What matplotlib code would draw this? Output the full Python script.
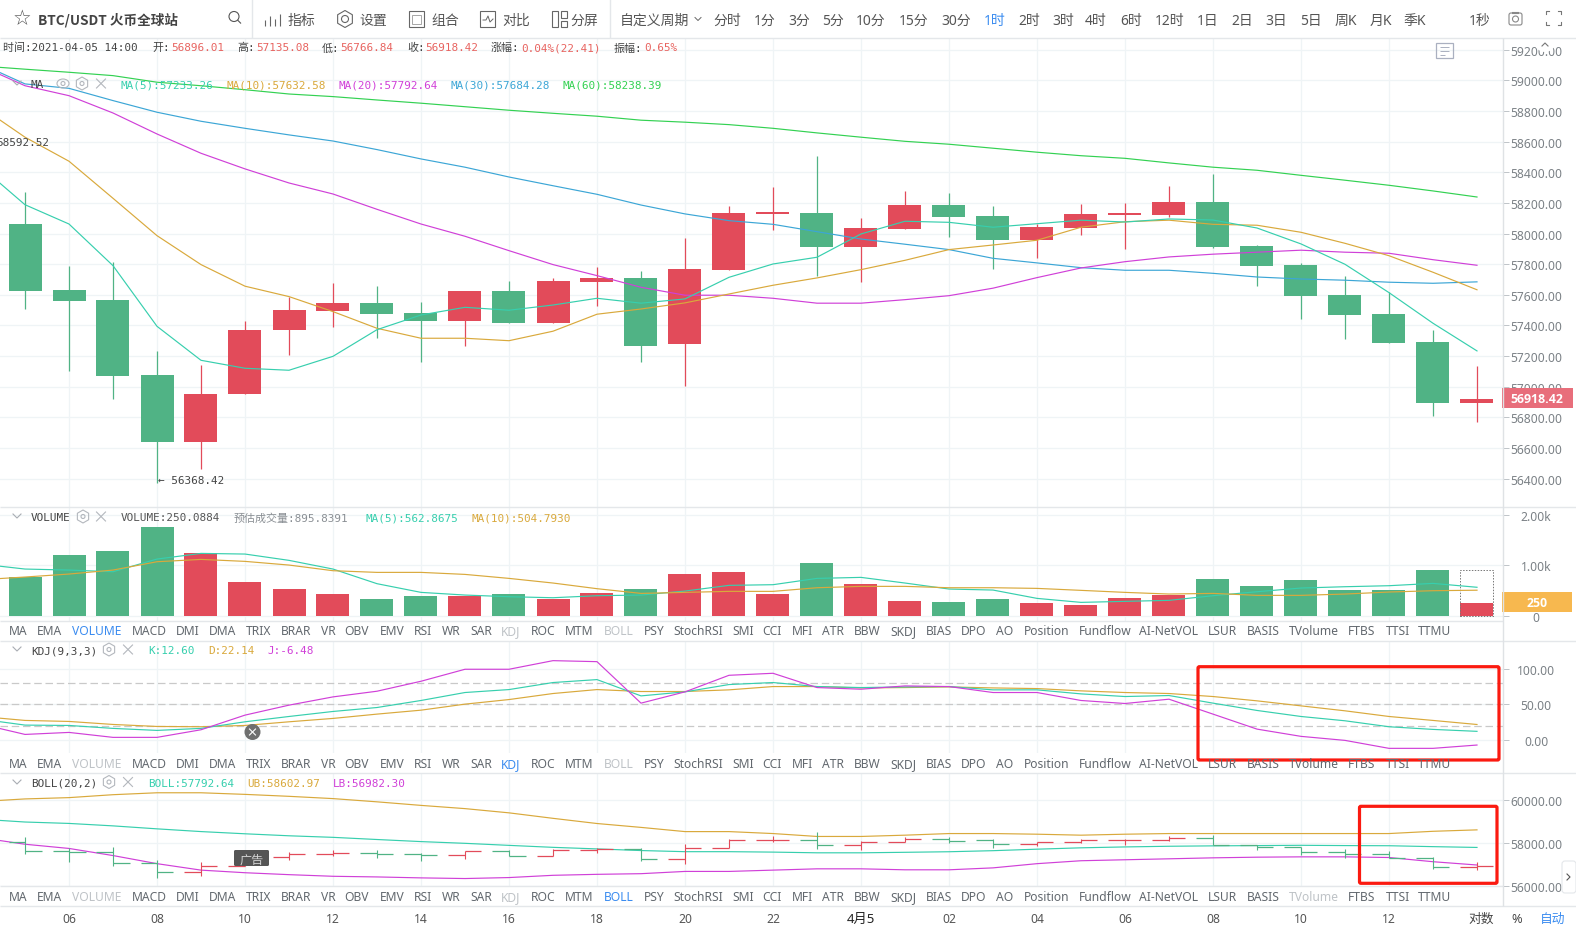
import matplotlib
matplotlib.use("Agg")
import matplotlib.pyplot as plt
from matplotlib.patches import Rectangle, Circle, Ellipse, RegularPolygon, FancyBboxPatch

plt.rcParams['font.family'] = ['Noto Sans', 'Noto Sans CJK SC', 'DejaVu Sans']
MONO = ['DejaVu Sans Mono', 'Noto Sans CJK SC']

# ---------- data ----------
opens = [58062, 57631, 57566, 57076, 56640, 56952, 57372, 57496, 57547, 57481, 57431, 57625, 57418, 57686, 57710, 57279, 57764,
         58128, 58134, 57914, 58032, 58186, 58115, 57960, 58038, 58123, 58123, 58206, 57919, 57795, 57599, 57475, 57292, 56896.01]
closes = [57627, 57562, 57072, 56640, 56952, 57372, 57501, 57547, 57477, 57431, 57625, 57418, 57690, 57710, 57268, 57769, 58134,
          58141, 57914, 58036, 58186, 58110, 57960, 58043, 58128, 58134, 58206, 57914, 57790, 57594, 57470, 57287, 56895, 56918.42]
highs = [58269, 57786, 57812, 57231, 57142, 57431, 57584, 57677, 57655, 57551, 57625, 57692, 57708, 57780, 57755, 57971, 58182,
         58304, 58504, 58102, 58280, 58263, 58178, 58062, 58191, 58200, 58309, 58389, 57925, 57808, 57723, 57616, 57370, 57135.08]
lows = [57507, 57101, 56920, 56368.42, 56462, 56952, 57209, 57388, 57316, 57163, 57268, 57418, 57418, 57529, 57163, 57006, 57764,
        58025, 57725, 57686, 58032, 57979, 57769, 57842, 57993, 57899, 58106, 57908, 57660, 57440, 57313, 57287, 56807, 56766.84]

line_idx = list(range(-1, 34))
ma5 = [58435, 58188, 58062, 57790, 57394, 57172, 57120, 57107, 57198, 57372, 57468, 57518, 57499, 57533, 57577, 57545, 57573, 57714,
       57801, 57845, 57997, 58080, 58073, 58041, 58064, 58087, 58075, 58095, 58088, 58036, 57932, 57799, 57614, 57414, 57233.26]
ma10 = [58826, 58629, 58472, 58230, 57986, 57797, 57656, 57588, 57490, 57381, 57316, 57316, 57300, 57362, 57473, 57507, 57547, 57605,
        57662, 57710, 57764, 57825, 57895, 57925, 57956, 58041, 58077, 58087, 58060, 58054, 58008, 57936, 57855, 57747, 57632.58]
ma20 = [59094, 58965, 58900, 58787, 58650, 58524, 58422, 58330, 58258, 58158, 58062, 57982, 57888, 57797, 57725, 57649, 57597, 57597,
        57577, 57545, 57545, 57568, 57594, 57643, 57712, 57775, 57816, 57847, 57865, 57878, 57891, 57878, 57871, 57829, 57792.64]
ma30 = [59107, 58977, 58948, 58868, 58792, 58733, 58687, 58644, 58604, 58548, 58487, 58433, 58369, 58312, 58256, 58186, 58128, 58084,
        58060, 58012, 57964, 57930, 57895, 57838, 57808, 57777, 57760, 57760, 57740, 57716, 57703, 57695, 57682, 57675, 57684.28]
ma60 = [59094, 59073, 59053, 59031, 58988, 58965, 58939, 58911, 58894, 58872, 58851, 58828, 58805, 58785, 58766, 58740, 58727, 58711,
        58687, 58657, 58629, 58602, 58583, 58557, 58531, 58508, 58491, 58461, 58433, 58413, 58380, 58348, 58315, 58278, 58238.39]

volume = [772, 1201, 1280, 1756, 1241, 667, 528, 429, 330, 389, 389, 429, 330, 449, 528, 825, 865, 429,
          1043, 627, 290, 271, 330, 251, 211, 350, 409, 726, 587, 706, 508, 508, 904, 250.0884]
vol_estimate = 895.8391
vol_ma5 = [1023, 924, 904, 871, 1122, 1234, 1221, 1096, 924, 634, 462, 409, 376, 356, 396, 409, 488, 601,
           614, 739, 759, 647, 528, 508, 343, 264, 284, 304, 396, 475, 548, 574, 594, 640, 562.87]
vol_ma10 = [713, 766, 825, 904, 1069, 1115, 1076, 1003, 891, 858, 858, 818, 739, 647, 535, 442, 462, 482,
            482, 554, 581, 581, 554, 554, 541, 502, 462, 429, 442, 403, 403, 429, 469, 495, 504.79]

kdj_k = [29.6, 21.3, 20.8, 16.7, 13.9, 16.7, 25.9, 33.3, 40.3, 45.8, 55.6, 66.7, 70.8, 80.6, 84.7, 62, 67.6, 77.8,
         80.6, 75, 73.6, 74.5, 75, 70.4, 70.4, 64.8, 61.1, 62.5, 51.9, 41.7, 33.3, 27.3, 19, 15.3, 12.6]
kdj_d = [33.3, 27.8, 26.4, 22.2, 19.4, 19, 20.8, 25.9, 30.6, 36.6, 42.1, 50.5, 56.9, 65.3, 70.8, 68.1, 68.1, 70.4,
         75, 75, 73.1, 73.6, 74.5, 73.1, 72.2, 69, 66.7, 65.3, 61.1, 55.1, 48.1, 41.2, 33.3, 27.8, 22.14]
kdj_j = [22.7, 8.3, 11.1, 4.2, 4.2, 14.8, 35.2, 49.1, 60.6, 68.5, 82.4, 99.1, 99.1, 111.1, 109.7, 51.9, 67.6, 90.7,
         93.5, 73.6, 71.3, 75.9, 75, 66.7, 66.7, 55.6, 51.4, 57.4, 36.6, 15.7, 5.6, 0, -11.1, -11.1, -6.48]
kdj_levels = [80, 50, 20]

boll_ub = [59911, 60030, 60090, 60225, 60314, 60314, 60240, 60150, 60045, 59896, 59732, 59583, 59388, 59135, 58896, 58717, 58523, 58523,
           58433, 58299, 58299, 58358, 58433, 58433, 58403, 58358, 58403, 58433, 58433, 58433, 58433, 58433, 58433, 58537, 58602.97]
boll_lb = [58239, 57940, 57746, 57418, 57044, 56746, 56626, 56537, 56462, 56432, 56388, 56358, 56403, 56507, 56552, 56582, 56686, 56686,
           56746, 56806, 56806, 56761, 56761, 56850, 57044, 57179, 57224, 57268, 57313, 57343, 57358, 57358, 57328, 57134, 56982.3]

time_idx = [1, 3, 5, 7, 9, 11, 13, 15, 17, 19, 21, 23, 25, 27, 29, 31]
time_labels = ['06', '08', '10', '12', '14', '16', '18', '20', '22', '4月5', '02', '04', '06', '08', '10', '12']
price_ticks = list(range(56400, 59201, 200))
vol_ticks = [0, 1000, 2000]
vol_labels = ['0', '1.00k', '2.00k']
kdj_ticks = [0, 50, 100]
boll_ticks = [56000, 58000, 60000]

tab_names = ['MA', 'EMA', 'VOLUME', 'MACD', 'DMI', 'DMA', 'TRIX', 'BRAR', 'VR', 'OBV', 'EMV', 'RSI', 'WR', 'SAR', 'KDJ', 'ROC', 'MTM',
             'BOLL', 'PSY', 'StochRSI', 'SMI', 'CCI', 'MFI', 'ATR', 'BBW', 'SKDJ', 'BIAS', 'DPO', 'AO', 'Position', 'Fundflow',
             'AI-NetVOL', 'LSUR', 'BASIS', 'TVolume', 'FTBS', 'TTSI', 'TTMU']
periods = ['分时', '1分', '3分', '5分', '10分', '15分', '30分', '1时', '2时', '3时', '4时', '6时', '12时', '1日', '2日', '3日', '5日',
           '周K', '月K', '季K', '1秒']

# ---------- layout / style ----------
W, H = 1576, 929
tab_x = [18, 50, 97, 149, 188, 223, 259, 296, 328, 357, 392, 423, 451, 481, 511, 543, 579, 619, 654, 698, 743, 772, 803, 833, 867, 903,
         939, 974, 1005, 1047, 1105, 1169, 1223, 1263, 1314, 1362, 1398, 1435]
period_x = [727, 765, 799, 833, 871, 914, 956, 995, 1029, 1063, 1096, 1131, 1170, 1208, 1242, 1276, 1311, 1346, 1381, 1415, 1480]
TEAL, GOLD, MAG, BLUE, LIME = '#37cfae', '#d9a93c', '#d040d8', '#3ca6d6', '#33d152'
UPC, DNC = '#e24b5a', '#50b385'
GRID = '#eff4f6'
TXT = '#7b8186'
DIV = '#e4e7ea'
LW = 0.85
step = 44.0
xlim = (-25 / step, (1503 - 25) / step)
bw = 33 / step

fig = plt.figure(figsize=(W / 100, H / 100), dpi=100, facecolor='white')


def pane(top, bottom):
    a = fig.add_axes([0, 1 - bottom / H, 1503 / W, (bottom - top) / H])
    a.set_xlim(*xlim)
    a.set_axisbelow(True)
    a.yaxis.tick_right()
    for s in a.spines.values():
        s.set_visible(False)
    a.set_xticks(time_idx)
    a.tick_params(axis='x', length=0, labelbottom=False)
    a.tick_params(axis='y', length=4.3, width=0.7, color='#bfc4c8', labelcolor=TXT, labelsize=8.7, pad=19.5)
    a.grid(True, color=GRID, lw=0.9)
    return a


def set_y(a, ticks, labels):
    a.set_yticks(ticks)
    a.set_yticklabels(labels)
    for tl in a.get_yticklabels():
        tl.set_ha('center')


n = len(opens)
xs = list(range(n))
cols = [UPC if closes[i] >= opens[i] else DNC for i in xs]

# main pane
ax = pane(38.5, 508)
ax.set_ylim(56214, 59280)
set_y(ax, price_ticks, [f'{v:.2f}' for v in price_ticks])
ax.vlines(xs, lows, highs, colors=cols, lw=0.9, zorder=2)
ax.bar(xs, [abs(closes[i] - opens[i]) for i in xs], bottom=[min(opens[i], closes[i]) for i in xs],
       width=bw, color=cols, zorder=3)
for vals, c in [(ma60, LIME), (ma30, BLUE), (ma20, MAG), (ma10, GOLD), (ma5, TEAL)]:
    ax.plot(line_idx, vals, color=c, lw=LW, zorder=4)
ax.text(3.02, lows[3] + 25, '← 56368.42', family=MONO, fontsize=7.9, color='#444', ha='left', va='center', zorder=5)

# volume pane
av = pane(508.3, 621.7)
av.set_ylim(-99, 2147)
set_y(av, vol_ticks, vol_labels)
av.bar(xs, volume, width=bw, color=cols, zorder=3)
av.bar([33], [vol_estimate], width=bw, fill=False, edgecolor='#777', ls=(0, (1.5, 1.5)), lw=0.7, zorder=3)
av.plot(line_idx, vol_ma5, color=TEAL, lw=LW, zorder=4)
av.plot(line_idx, vol_ma10, color=GOLD, lw=LW, zorder=4)

# KDJ pane
ak = pane(641.7, 754.3)
ak.set_ylim(-18, 138.9)
set_y(ak, kdj_ticks, [f'{v:.2f}' for v in kdj_ticks])
for lv in kdj_levels:
    ak.axhline(lv, color='#c9c9c9', lw=0.9, ls=(0, (6, 3)), zorder=2)
ak.plot(line_idx, kdj_d, color=GOLD, lw=LW, zorder=4)
ak.plot(line_idx, kdj_k, color=TEAL, lw=LW, zorder=4)
ak.plot(line_idx, kdj_j, color=MAG, lw=LW, zorder=4)

# BOLL pane
ab = pane(774.3, 887.3)
ab.set_ylim(56150, 61212)
set_y(ab, boll_ticks, [f'{v:.2f}' for v in boll_ticks])
ab.plot(line_idx, boll_ub, color=GOLD, lw=LW, zorder=3)
ab.plot(line_idx, ma20, color=TEAL, lw=LW, zorder=3)
ab.plot(line_idx, boll_lb, color=MAG, lw=LW, zorder=3)
ab.vlines(xs, lows, highs, colors=cols, lw=0.8, zorder=4)
ab.hlines(opens, [i - 0.375 for i in xs], xs, colors=cols, lw=0.9, zorder=4)
ab.hlines(closes, xs, [i + 0.375 for i in xs], colors=cols, lw=0.9, zorder=4)
ab.set_xticks(time_idx)
ab.set_xticklabels(time_labels)
ab.tick_params(axis='x', labelbottom=True, labelsize=8.7, labelcolor='#555', pad=18.5)
ab.get_xticklabels()[9].set_color('#222')
ab.get_xticklabels()[9].set_fontsize(9.5)

# ---------- overlay in pixel space: screen chrome ----------
ov = fig.add_axes([0, 0, 1, 1], zorder=10)
ov.set_xlim(0, W)
ov.set_ylim(H, 0)
ov.axis('off')
ov.patch.set_alpha(0)


def line(x0, y0, x1, y1, c=DIV, lw=1.0, **k):
    ov.plot([x0, x1], [y0, y1], color=c, lw=lw, solid_capstyle='butt', **k)


def t(x, y, s, c='#555', fs=8.7, ha='center', mono=False, fam=None, **k):
    family = fam if fam else (MONO if mono else plt.rcParams['font.family'])
    # common baseline so that letters with descenders stay in line
    ov.text(x, y + 0.36 * fs / 0.72, s, color=c, fontsize=fs, ha=ha, va='baseline', family=family, **k)


for yy in [38.5, 508.3, 641.7, 774.3, 907.3]:
    line(0, yy, W, yy)
for yy in [621.7, 887.3]:
    line(0, yy, 1503, yy)
line(1503, 38.5, 1503, 907.3, c='#dfe2e5')
line(252, 0, 252, 38.5)
line(610, 0, 610, 38.5)

# toolbar
t(22, 18, '☆', c='#555', fs=15, fam=['DejaVu Sans'])
t(38, 20, 'BTC/USDT 火币全球站', c='#444', fs=9.8, ha='left', fontweight='bold', fam=['Noto Sans CJK SC'])
ov.add_patch(Circle((234, 17.5), 5, fill=False, ec='#555', lw=0.8))
line(237.5, 21, 241, 24.5, c='#555', lw=0.8)
for xx, s in [(301, '指标'), (373, '设置'), (445, '组合'), (516, '对比'), (584, '分屏'), (654, '自定义周期')]:
    t(xx, 20, s, fs=10)
for dx, h in [(265, 6), (270, 10), (275, 7), (280, 12)]:
    line(dx, 27, dx, 27 - h, c='#666', lw=0.8)
ov.add_patch(RegularPolygon((345, 20), 6, radius=8.5, fill=False, ec='#666', lw=0.8))
ov.add_patch(Circle((345, 20), 3.5, fill=False, ec='#666', lw=0.8))
ov.add_patch(Rectangle((409, 12), 15, 16, fill=False, ec='#666', lw=0.8))
ov.add_patch(Rectangle((412, 16), 9, 9, fill=False, ec='#999', lw=0.6))
ov.add_patch(Rectangle((480, 12), 15, 16, fill=False, ec='#666', lw=0.8))
ov.plot([483, 486, 488, 490, 493], [21, 21, 17, 23, 20], color='#666', lw=0.7)
ov.add_patch(Rectangle((552, 12), 6, 16, fill=False, ec='#666', lw=0.8))
ov.add_patch(Rectangle((561, 12), 6, 7, fill=False, ec='#666', lw=0.8))
ov.add_patch(Rectangle((561, 22), 6, 6, fill=False, ec='#666', lw=0.8))
ov.plot([695, 698, 701], [18.5, 21.5, 18.5], color='#666', lw=0.7)
for xx, s in zip(period_x, periods):
    t(xx, 20, s, c='#3b8cf0' if s == '1时' else '#555', fs=10)
ov.add_patch(FancyBboxPatch((1509, 14), 13, 12, boxstyle='round,pad=0,rounding_size=2', fill=False, ec='#888', lw=0.8))
ov.add_patch(Circle((1515.5, 20), 3, fill=False, ec='#888', lw=0.8))
line(1512, 14, 1519, 14, c='#888', lw=1.5)
for sx, sy in [(1546, 12), (1561, 12), (1546, 26), (1561, 26)]:
    dx = 3 if sx < 1550 else -3
    dy = 3 if sy < 20 else -3
    ov.plot([sx + dx, sx, sx], [sy, sy, sy + dy], color='#777', lw=0.8)

# OHLC information row
t(3, 47.5, '时间:2021-04-05 14:00', c='#444', fs=7.9, ha='left', mono=True)
for lx, lab, vx, val in [(152, '开:', 171, '56896.01'), (237, '高:', 256, '57135.08'), (322, '低:', 340, '56766.84'),
                         (407, '收:', 425, '56918.42'), (491, '涨幅:', 521, '0.04%(22.41)'), (614, '振幅:', 644, '0.65%')]:
    t(lx, 47.5, lab, c='#444', fs=7.9, ha='left', mono=True)
    t(vx, 47.5, val, c='#e8635f', fs=7.9, ha='left', mono=True)


def chev(x, y):
    ov.plot([x - 4, x, x + 4], [y - 2, y + 2, y - 2], color='#a9adb3', lw=0.8)


def hexicon(x, y):
    ov.add_patch(RegularPolygon((x, y), 6, radius=6.5, fill=False, ec='#b3b7bd', lw=0.8))
    ov.add_patch(Circle((x, y), 2, fill=False, ec='#b3b7bd', lw=0.8))


def cross(x, y, r=4.5, c='#b3b7bd'):
    ov.plot([x - r, x + r], [y - r, y + r], color=c, lw=0.8)
    ov.plot([x - r, x + r], [y + r, y - r], color=c, lw=0.8)


def row(y, items):
    for xx, s, c in items:
        t(xx, y, s, c=c, fs=7.9, ha='left', mono=True)


# MA legend
chev(17, 84)
ov.add_patch(Ellipse((63, 84.5), 12, 9, fill=False, ec='#b3b7bd', lw=0.8))
ov.add_patch(Circle((63, 84.5), 2, fill=False, ec='#b3b7bd', lw=0.8))
hexicon(82, 84.5)
cross(101, 84.5)
row(84.5, [(31, 'MA', '#444'), (121, 'MA(5):57233.26', TEAL), (227, 'MA(10):57632.58', GOLD), (339, 'MA(20):57792.64', MAG),
           (451, 'MA(30):57684.28', BLUE), (563, 'MA(60):58238.39', LIME)])
t(49, 142, '58592.52', c='#444', fs=7.9, ha='right', mono=True)

# VOLUME legend
chev(17, 517)
hexicon(83, 517.5)
cross(101, 517.5)
row(517.5, [(31, 'VOLUME', '#444'), (121, 'VOLUME:250.0884', '#555'), (234, '预估成交量:895.8391', '#8a8f94'),
            (366, 'MA(5):562.8675', TEAL), (472, 'MA(10):504.7930', GOLD)])
# KDJ legend
chev(17, 650)
hexicon(109, 650.5)
cross(128, 650.5)
row(650.5, [(31, 'KDJ(9,3,3)', '#444'), (148, 'K:12.60', TEAL), (208, 'D:22.14', GOLD), (267, 'J:-6.48', MAG)])
# BOLL legend
chev(17, 783)
hexicon(109, 783)
cross(128, 783)
row(783, [(31, 'BOLL(20,2)', '#444'), (148, 'BOLL:57792.64', TEAL), (247, 'UB:58602.97', GOLD), (333, 'LB:56982.30', MAG)])

# indicator tabs
for yy, blue, faint in [(630.5, 'VOLUME', ['KDJ', 'BOLL']), (763.5, 'KDJ', ['VOLUME', 'BOLL']), (896.7, 'BOLL', ['VOLUME', 'KDJ', 'TVolume'])]:
    for xx, s in zip(tab_x, tab_names):
        c = '#3b8cf0' if s == blue else ('#bfc3c7' if s in faint else '#62686e')
        t(xx, yy, s, c=c, fs=8.7)

# price tags
ov.add_patch(Rectangle((1502, 389), 71, 20, fc='#e86e7b', ec='none'))
t(1537, 399, '56918.42', c='white', fs=8.9, fontweight='bold', fam=['Open Sans'])
ov.add_patch(Rectangle((1502, 593), 70, 20, fc='#f7b84f', ec='none'))
t(1537, 603, '250', c='white', fs=8.9, fontweight='bold', fam=['Open Sans'])

# widgets
ov.add_patch(Rectangle((1436.5, 43.5), 17, 15, fill=False, ec='#aab0c0', lw=0.9))
for a0, a1, yy in [(1440, 1449, 48), (1440, 1449, 52), (1440, 1445, 56)]:
    line(a0, yy, a1, yy, c='#aab0c0', lw=0.7)
ov.add_patch(Circle((1545, 42), 11, fc='white', ec='none'))
ov.plot([1542, 1545, 1548], [47, 44, 47], color='#777', lw=0.8)
ov.add_patch(FancyBboxPatch((1562, 862), 14, 32, boxstyle='round,pad=0,rounding_size=3', fc='white', ec='#e4e7ea', lw=0.8))
ov.plot([1567, 1570, 1567], [875, 878, 881], color='#555', lw=0.8)
ov.add_patch(Circle((252.5, 733), 8, fc='#6f6f6f', ec='none'))
cross(252.5, 733, r=3, c='white')
ov.add_patch(FancyBboxPatch((234, 851), 35, 16, boxstyle='round,pad=0,rounding_size=1.5', fc='#555555', ec='none'))
t(251.5, 859, '广告', c='#d5d5d5', fs=8.7)

# red highlight boxes
for x0, y0, x1, y1 in [(1198, 667.7, 1499, 761), (1359.5, 807.3, 1497, 884.3)]:
    ov.add_patch(FancyBboxPatch((x0, y0), x1 - x0, y1 - y0, boxstyle='round,pad=0,rounding_size=1.5', fill=False, ec='#fb1a10', lw=2.3))

# footer right
t(1481, 918, '对数', c='#444', fs=9.2)
t(1517, 918, '%', c='#444', fs=9.2)
t(1553, 918, '自动', c='#3b8cf0', fs=9.2)

fig.savefig('out.png', dpi=100)
